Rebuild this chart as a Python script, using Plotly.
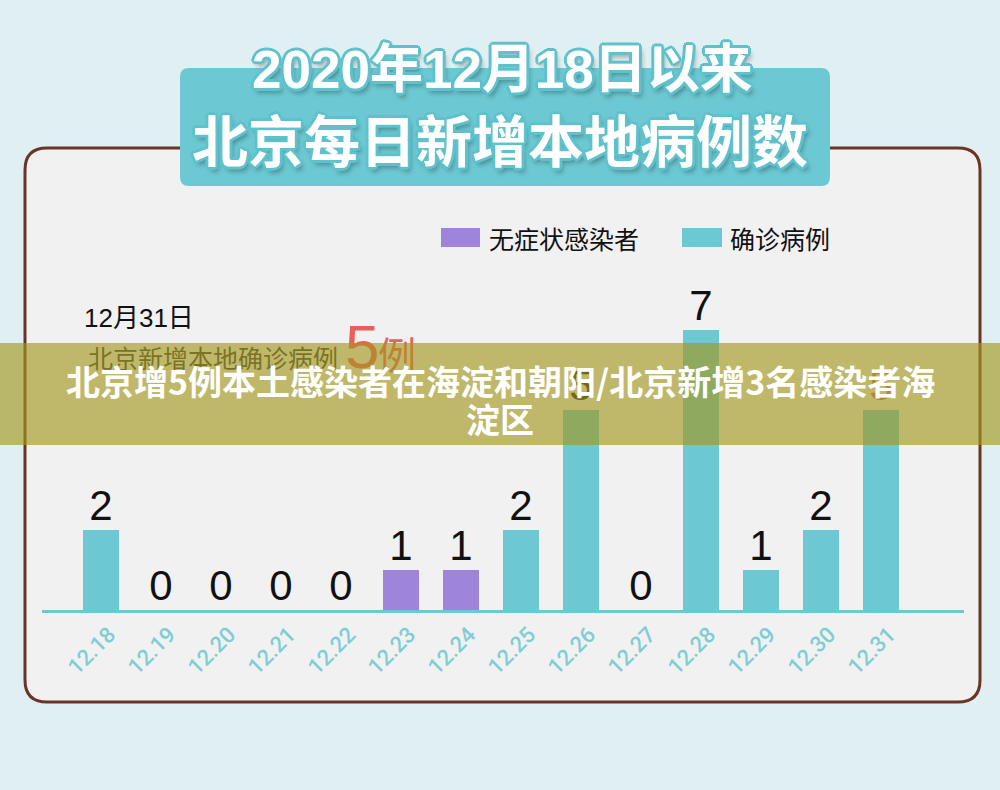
import plotly.graph_objects as go

# ---------------- data ----------------
dates = ["12.18", "12.19", "12.20", "12.21", "12.22", "12.23", "12.24",
         "12.25", "12.26", "12.27", "12.28", "12.29", "12.30", "12.31"]
confirmed = [2, 0, 0, 0, 0, 0, 0, 2, 5, 0, 7, 1, 2, 5]
asymptomatic = [0, 0, 0, 0, 0, 1, 1, 0, 0, 0, 0, 0, 0, 0]
series_names = ["无症状感染者", "确诊病例"]
title_lines = ["2020年12月18日以来", "北京每日新增本地病例数"]
banner_lines = ["北京增5例本土感染者在海淀和朝阳/北京新增3名感染者海", "淀区"]
note_date = "12月31日"
note_text = "北京新增本地确诊病例"
note_value = "5"
note_unit = "例"

# ---------------- styling ----------------
W, H = 1000, 790
L, R, T, B = 42, 36, 290, 180
PW = W - L - R
PH = H - T - B

TEAL = "#6cc9d3"
PURPLE = "#9f84db"
BG = "#e0eff2"
PANEL = "#f1f1f1"
BORDER = "#6b3526"
RED = "#e8605a"
CJK = "Noto Sans CJK SC"
NUM = "Liberation Sans, Noto Sans CJK SC"


def px(x):
    return (x - L) / PW


def py(y):
    return (H - B - y) / PH


def rrect(x0, y0, x1, y1, r):
    pts = [
        ("M", [(x0 + r, y0)]),
        ("L", [(x1 - r, y0)]),
        ("Q", [(x1, y0), (x1, y0 + r)]),
        ("L", [(x1, y1 - r)]),
        ("Q", [(x1, y1), (x1 - r, y1)]),
        ("L", [(x0 + r, y1)]),
        ("Q", [(x0, y1), (x0, y1 - r)]),
        ("L", [(x0, y0 + r)]),
        ("Q", [(x0, y0), (x0 + r, y0)]),
    ]
    s = ""
    for cmd, ps in pts:
        s += cmd + " " + " ".join(f"{px(a):.5f},{py(b):.5f}" for a, b in ps) + " "
    return s + "Z"


idx = list(range(len(dates)))
totals = [c + a for c, a in zip(confirmed, asymptomatic)]
label_colors = ["#111111"] * (len(dates) - 1) + [RED]

fig = go.Figure()
fig.add_trace(go.Bar(x=idx, y=confirmed, name=series_names[1], marker_color=TEAL,
                     marker_line_width=0, width=0.6, hoverinfo="skip"))
fig.add_trace(go.Bar(x=idx, y=asymptomatic, name=series_names[0], marker_color=PURPLE,
                     marker_line_width=0, width=0.6, hoverinfo="skip"))
fig.add_trace(go.Scatter(x=idx, y=totals, mode="text", text=[str(v) for v in totals],
                         textposition="top center",
                         textfont=dict(size=42, color=label_colors, family=NUM),
                         hoverinfo="skip", showlegend=False))

shapes = [
    dict(type="path", xref="paper", yref="paper", path=rrect(25, 148, 980, 702, 22),
         fillcolor=PANEL, line=dict(color=BORDER, width=3), layer="below"),
    dict(type="path", xref="paper", yref="paper", path=rrect(180, 68, 830, 186, 9),
         fillcolor=TEAL, line=dict(width=0), layer="below"),
    dict(type="rect", xref="paper", yref="paper", x0=px(441), x1=px(480), y0=py(247), y1=py(228),
         fillcolor=PURPLE, line=dict(width=0), layer="below"),
    dict(type="rect", xref="paper", yref="paper", x0=px(682), x1=px(722), y0=py(247), y1=py(228),
         fillcolor=TEAL, line=dict(width=0), layer="below"),
]

oc = "#5fc1cb"
outline = (f"-2px -2px 0 {oc}, 2px -2px 0 {oc}, -2px 2px 0 {oc}, 2px 2px 0 {oc}, "
           f"0 3px 0 {oc}, 0 -3px 0 {oc}, 3px 0 0 {oc}, -3px 0 0 {oc}, "
           "3px 5px 5px rgba(0,0,0,0.30)")

ann = []
# title
ann.append(dict(text=f"<b>{title_lines[0]}</b>", x=px(502), y=py(69), xanchor="center", yanchor="middle",
                font=dict(size=53, color="white", family=NUM, shadow=outline)))
ann.append(dict(text=f"<b>{title_lines[1]}</b>", x=px(500), y=py(137), xanchor="center", yanchor="middle",
                font=dict(size=56, color="white", family=CJK, shadow=outline)))
# legend
ann.append(dict(text=series_names[0], x=px(487), y=py(238), xanchor="left", yanchor="middle",
                font=dict(size=25, color="#111111", family=CJK)))
ann.append(dict(text=series_names[1], x=px(728), y=py(238), xanchor="left", yanchor="middle",
                font=dict(size=25, color="#111111", family=CJK)))
# note
ann.append(dict(text=note_date, x=px(82), y=py(318), xanchor="left", yanchor="middle",
                font=dict(size=26, color="#111111", family=NUM)))
ann.append(dict(text=note_text, x=px(86), y=py(357), xanchor="left", yanchor="middle",
                font=dict(size=25, color="#333333", family=CJK)))
ann.append(dict(text=note_value, x=px(343), y=py(346), xanchor="left", yanchor="middle",
                font=dict(size=62, color=RED, family=NUM)))
ann.append(dict(text=note_unit, x=px(376), y=py(352), xanchor="left", yanchor="middle",
                font=dict(size=38, color=RED, family=CJK)))
# banner
ann.append(dict(text=" ", x=px(500), y=py(394), xanchor="center", yanchor="middle",
                width=1004, height=102, borderpad=0, borderwidth=0,
                bgcolor="rgba(163,152,30,0.64)", font=dict(size=10)))
ann.append(dict(text=f"<b>{banner_lines[0]}</b>", x=px(500), y=py(380), xanchor="center", yanchor="middle",
                font=dict(size=34, color="white", family=CJK)))
ann.append(dict(text=f"<b>{banner_lines[1]}</b>", x=px(500), y=py(418), xanchor="center", yanchor="middle",
                font=dict(size=34, color="white", family=CJK)))
for a in ann:
    a.setdefault("xref", "paper")
    a.setdefault("yref", "paper")
    a["showarrow"] = False

fig.update_layout(
    width=W, height=H,
    margin=dict(l=L, r=R, t=T, b=B, pad=0),
    paper_bgcolor=BG, plot_bgcolor="rgba(0,0,0,0)",
    barmode="stack", showlegend=False,
    shapes=shapes, annotations=ann,
    xaxis=dict(range=[-0.983, 14.383], tickmode="array", tickvals=idx, ticktext=dates,
               tickangle=-45, tickfont=dict(size=22, color="#7fcdd5", family="Roboto", weight=500),
               showline=True, linecolor=TEAL, linewidth=3, ticks="", showgrid=False,
               zeroline=False, ticklabelshift=8, ticklabelstandoff=0, fixedrange=True),
    yaxis=dict(range=[0, 8], visible=False, showgrid=False, zeroline=False, fixedrange=True),
)

fig.write_html("out.html", config={"displayModeBar": False})
